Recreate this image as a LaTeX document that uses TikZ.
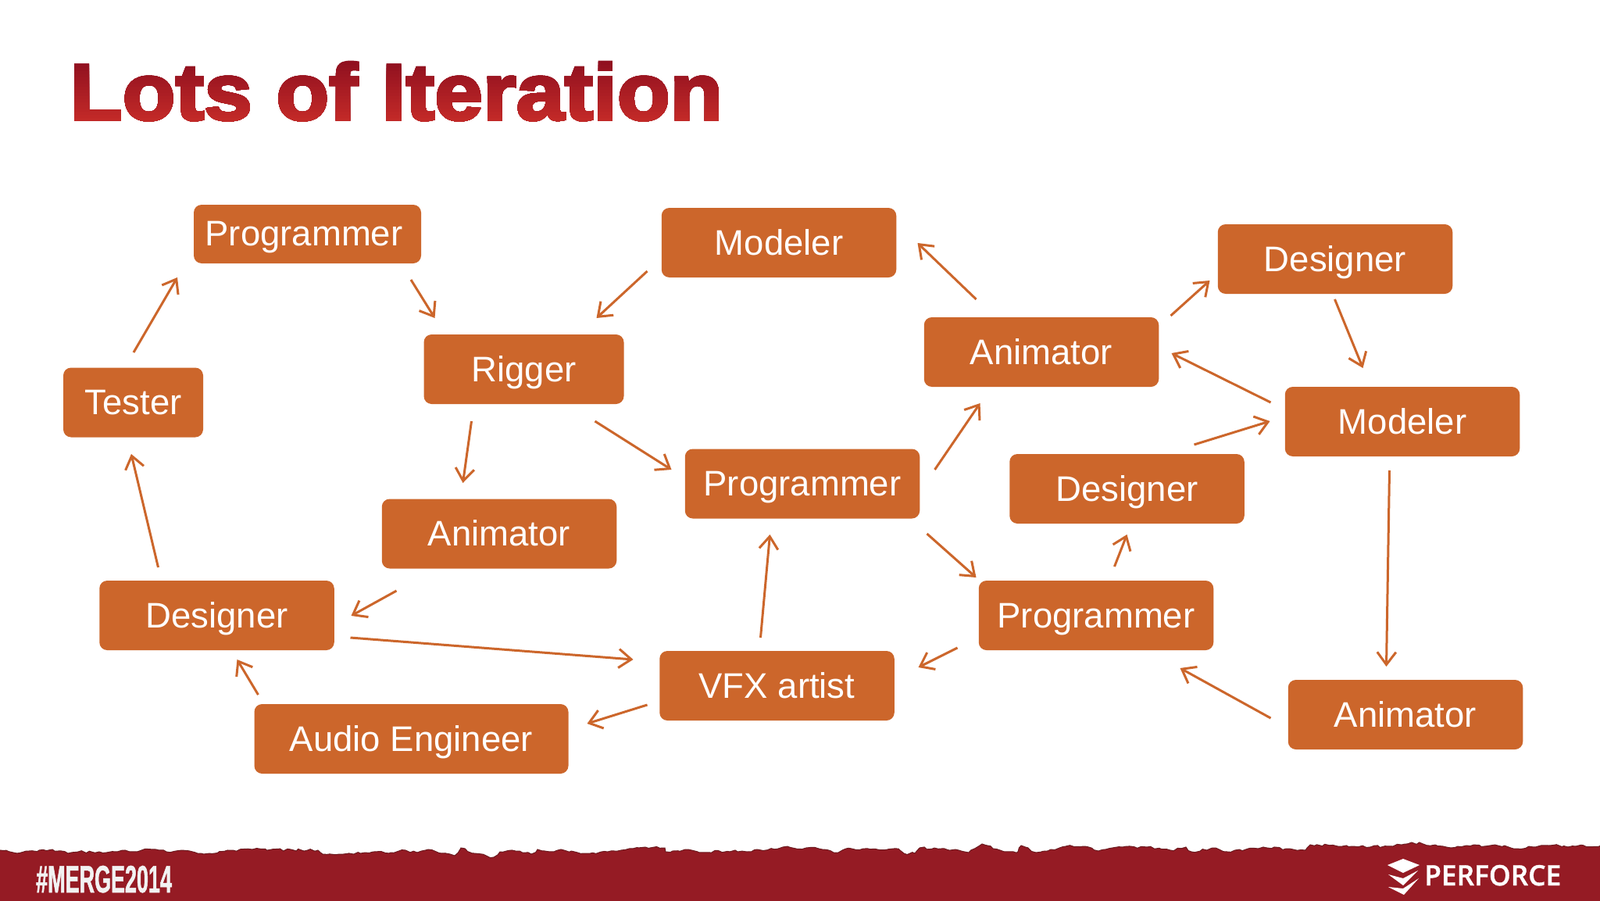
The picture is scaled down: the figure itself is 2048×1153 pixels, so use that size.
\documentclass[tikz,border=0pt]{standalone}
\usepackage{fontspec}
\setmainfont{Liberation Sans}
\newfontfamily\titlefont[FakeBold=3,FakeStretch=1.085]{Liberation Sans Bold}
\newfontfamily\mergefont[FakeBold=1,FakeStretch=0.55]{Liberation Sans Bold}
\newfontfamily\brandfont[FakeBold=1,FakeStretch=0.98]{Open Sans Semibold}
\usetikzlibrary{arrows.meta,decorations.pathmorphing}
\definecolor{boxorange}{HTML}{CC662B}
\definecolor{titletop}{HTML}{8E0F1F}
\definecolor{titlelow}{HTML}{C52B28}
\definecolor{bandred}{HTML}{951B24}
\definecolor{bandedge}{HTML}{6B1A1F}
\tikzset{
  role/.style={fill=boxorange,text=white,rounded corners=10pt,inner sep=0pt,text height=33pt,text depth=2pt,
    minimum width=300.5pt,minimum height=89pt,font=\fontsize{45.5}{50}\selectfont},
  flow/.style={draw=boxorange,line width=3pt,-{Straight Barb[length=16pt,width=24pt,line width=3pt]}},
  torn/.style={fill=bandred,draw=bandedge,line width=1pt,decorate,decoration={random steps,segment length=5pt,amplitude=1.6pt}},
}

\begin{document}
\begin{tikzpicture}[x=1pt,y=-1pt]
\useasboundingbox (0,0) rectangle (2048,1153);
\fill[white] (0,0) rectangle (2048,1153);

% title, painted in bands for the gradient
\foreach \n [evaluate=\n as \pct using \n*5] in {0,...,20} {
  \begin{scope}
    \clip (0,76+\n*4) rectangle (2048,175);
    \node[anchor=base west,inner sep=0pt,text=titlelow!\pct!titletop,font=\titlefont\fontsize{102}{110}\selectfont] (title\n) at (89,153) {Lots of Iteration};
  \end{scope}
}

% boxes
\node[role,minimum width=179pt] (tester) at (170.5,515) {Tester};
\node[role,minimum width=291pt,minimum height=75pt,text height=32pt] (progA) at (393.5,299.5) {Programmer\kern9pt};
\node[role,minimum width=256pt] (rigger) at (670.5,472.5) {Rigger};
\node[role] (modA) at (997,310.5) {Modeler};
\node[role] (animA) at (1333,450.5) {Animator};
\node[role] (desA) at (1709,331.5) {Designer};
\node[role] (modB) at (1795,539.5) {Modeler};
\node[role] (desB) at (1442.5,625.5) {Designer};
\node[role] (progB) at (1027,619) {Programmer};
\node[role] (animB) at (639,683) {Animator};
\node[role] (desC) at (277.5,787.5) {Designer};
\node[role] (progC) at (1403,787.5) {Programmer};
\node[role] (vfx) at (994.5,877.5) {VFX artist};
\node[role,minimum width=402pt] (audio) at (526.5,945.5) {Audio Engineer};
\node[role] (animC) at (1799,914.5) {Animator};

% arrows
\draw[flow] ([shift={(0.5,-64)}]tester.center) -- ([shift={(-166.5,55.5)}]progA.center);
\draw[flow] ([shift={(132.5,58.5)}]progA.center) -- ([shift={(-114,-65.5)}]rigger.center);
\draw[flow] ([shift={(-168.5,36.5)}]modA.center) -- ([shift={(93,-65.5)}]rigger.center);
\draw[flow] ([shift={(-67,66.5)}]rigger.center) -- ([shift={(-46.5,-65)}]animB.center);
\draw[flow] ([shift={(91,66.5)}]rigger.center) -- ([shift={(-167.5,-18)}]progB.center);
\draw[flow] ([shift={(-131.5,73)}]animB.center) -- ([shift={(172,0.5)}]desC.center);
\draw[flow] ([shift={(-75,-61.5)}]desC.center) -- ([shift={(-2.5,66)}]tester.center);
\draw[flow] ([shift={(171,28.5)}]desC.center) -- ([shift={(-184,-33.5)}]vfx.center);
\draw[flow] ([shift={(-196,-56.5)}]audio.center) -- ([shift={(26,56.5)}]desC.center);
\draw[flow] ([shift={(-166,24.5)}]vfx.center) -- ([shift={(225,-19.5)}]audio.center);
\draw[flow] ([shift={(-21,-61.5)}]vfx.center) -- ([shift={(-41.5,65)}]progB.center);
\draw[flow] ([shift={(-177.5,41.5)}]progC.center) -- ([shift={(181,-23.5)}]vfx.center);
\draw[flow] ([shift={(159.5,64)}]progB.center) -- ([shift={(-153.5,-48.5)}]progC.center);
\draw[flow] ([shift={(169.5,-18)}]progB.center) -- ([shift={(-78.5,65.5)}]animA.center);
\draw[flow] ([shift={(-83.5,-67.5)}]animA.center) -- ([shift={(177.5,0.5)}]modA.center);
\draw[flow] ([shift={(165.5,-46.5)}]animA.center) -- ([shift={(-160.5,27.5)}]desA.center);
\draw[flow] ([shift={(-0.5,51.5)}]desA.center) -- ([shift={(-50.5,-68.5)}]modB.center);
\draw[flow] ([shift={(-168.5,-24.5)}]modB.center) -- ([shift={(166.5,1.5)}]animA.center);
\draw[flow] ([shift={(86,-56.5)}]desB.center) -- ([shift={(-169.5,-0.5)}]modB.center);
\draw[flow] ([shift={(23.5,-62.5)}]progC.center) -- ([shift={(0,58.5)}]desB.center);
\draw[flow] ([shift={(-16.5,62.5)}]modB.center) -- ([shift={(-24.5,-61.5)}]animC.center);
\draw[flow] ([shift={(-172.5,4.5)}]animC.center) -- ([shift={(107.5,67.5)}]progC.center);

% torn band
\path[torn] (-12,1087) -- (17,1091) -- (50,1088) -- (67,1087) -- (87,1092) -- (100,1090) -- (123,1091)
  -- (150,1090) -- (200,1087) -- (213,1090) -- (233,1088) -- (257,1092) -- (323,1087) -- (407,1088)
  -- (413,1093) -- (467,1091) -- (500,1091) -- (519,1088) -- (534,1091) -- (548,1087) -- (565,1092)
  -- (582,1095) -- (590,1085) -- (607,1092) -- (632,1097) -- (640,1090) -- (665,1089) -- (680,1093)
  -- (688,1087) -- (709,1090) -- (718,1087) -- (749,1092) -- (795,1088) -- (826,1084) -- (851,1085)
  -- (852,1090) -- (877,1087) -- (895,1091) -- (941,1088) -- (956,1090) -- (1002,1084) -- (1048,1086)
  -- (1067,1091) -- (1090,1086) -- (1123,1087) -- (1150,1086) -- (1157,1092) -- (1171,1092) -- (1177,1085)
  -- (1223,1087) -- (1240,1091) -- (1257,1080) -- (1280,1088) -- (1303,1090) -- (1307,1082) -- (1326,1091)
  -- (1364,1083) -- (1387,1083) -- (1406,1089) -- (1437,1084) -- (1468,1084) -- (1498,1088) -- (1518,1084)
  -- (1525,1090) -- (1556,1085) -- (1571,1090) -- (1617,1084) -- (1671,1088) -- (1677,1081) -- (1733,1083)
  -- (1783,1083) -- (1807,1078) -- (1857,1085) -- (1877,1082) -- (1917,1082) -- (1937,1086) -- (1983,1082)
  -- (2017,1083) -- (2060,1082) -- (2060,1170) -- (-12,1170) -- cycle;

\node[anchor=base west,inner sep=0pt,text=white!90!gray,font=\mergefont\fontsize{49}{52}\selectfont] (merge) at (46,1142) {\#MERGE2014};
\node[anchor=base west,inner sep=0pt,text=white,font=\brandfont\fontsize{36}{40}\selectfont] (brand) at (1823,1133) {PERFORCE};

% logo
\fill[white] (1776,1107) -- (1796,1099) -- (1817,1107) -- (1796,1117) -- cycle;
\fill[white] (1777,1119) -- (1796,1124) -- (1815,1114) -- (1796,1133) -- cycle;
\fill[white] (1777,1135) -- (1796,1137) -- (1816,1124) -- (1797,1145) -- cycle;
\end{tikzpicture}
\end{document}
